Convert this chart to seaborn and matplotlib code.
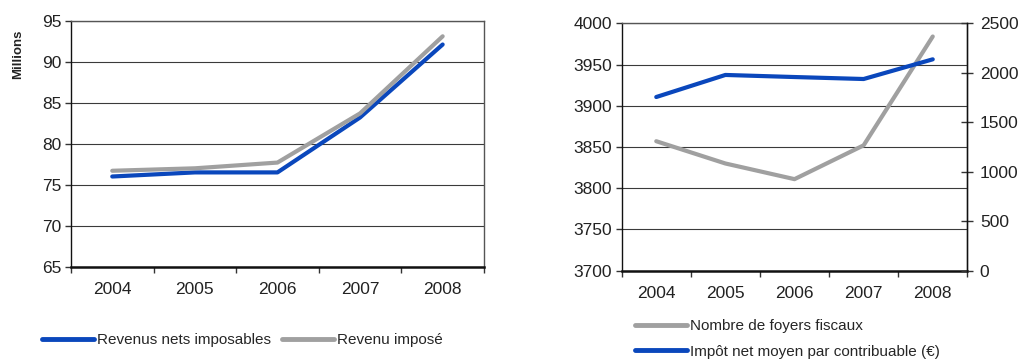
import matplotlib
matplotlib.use("Agg")
import matplotlib.pyplot as plt
import seaborn as sns
import pandas as pd
import numpy as np
from matplotlib.ticker import FixedLocator, MultipleLocator
from matplotlib.lines import Line2D

years = ["2004", "2005", "2006", "2007", "2008"]

# Revenus (millions)
revenus_nets_imposables = [76.0, 76.5, 76.5, 83.2, 92.1]
revenu_impose = [76.7, 77.0, 77.7, 83.7, 93.1]

# Foyers fiscaux (left axis) and average net tax per taxpayer in € (right axis)
nombre_foyers = [3857, 3830, 3811, 3852, 3984]
impot_moyen = [1755, 1978, 1957, 1937, 2136]

BLUE = "#0A47BC"
GREY = "#A0A0A0"
TICK_SIZE = 12.5

sns.set_theme(style="white")
plt.rcParams["font.family"] = ["Liberation Sans", "DejaVu Sans"]

fig = plt.figure(figsize=(10.18, 3.59), dpi=100)
ax1 = fig.add_axes([0.0697, 0.2571, 0.4057, 0.6852])
ax2 = fig.add_axes([0.6107, 0.2460, 0.3395, 0.6891])

df1 = pd.DataFrame({
    "annee": years * 2,
    "valeur": revenus_nets_imposables + revenu_impose,
    "serie": ["Revenus nets imposables"] * 5 + ["Revenu imposé"] * 5,
})
sns.lineplot(data=df1, x="annee", y="valeur", hue="serie", sort=False,
             palette=[BLUE, GREY], linewidth=3, ax=ax1, legend=False)


def style_axes(ax, ylo, yhi, step):
    ax.set_xlim(-0.5, len(years) - 0.5)
    ax.set_ylim(ylo, yhi)
    ax.yaxis.set_major_locator(MultipleLocator(step))
    ax.set_xticks(range(len(years)))
    ax.set_xticklabels(years)
    ax.xaxis.set_minor_locator(FixedLocator(np.arange(-0.5, len(years), 1.0)))
    ax.tick_params(axis="x", which="major", length=0, pad=11, labelsize=TICK_SIZE)
    ax.tick_params(axis="x", which="minor", bottom=True, length=4, width=1, color="#333333")
    ax.tick_params(axis="y", left=True, length=4, width=1, color="#333333",
                   labelsize=TICK_SIZE, pad=3)
    ax.set_xlabel("")
    ax.set_ylabel("")
    ax.grid(axis="y", color="#3a3a3a", linewidth=0.8)
    ax.grid(axis="x", visible=False)
    for s in ["top", "right"]:
        ax.spines[s].set_color("#555555")
        ax.spines[s].set_linewidth(1.0)
    ax.spines["left"].set_color("#111111")
    ax.spines["bottom"].set_color("#111111")
    ax.spines["bottom"].set_linewidth(1.8)
    ax.spines["left"].set_linewidth(1.0)
    for lbl in ax.get_yticklabels() + ax.get_xticklabels():
        lbl.set_color("#222222")


style_axes(ax1, 65, 95, 5)
fig.text(0.018, 1 - 54 / 359, "Millions", rotation=90, ha="center", va="center",
         fontsize=9.5, fontweight="bold", color="#222222")

# Right chart: households on left axis, average tax on twin axis
sns.lineplot(x=years, y=nombre_foyers, color=GREY, linewidth=3, sort=False, ax=ax2)
style_axes(ax2, 3700, 4000, 50)
ax2r = ax2.twinx()
sns.lineplot(x=years, y=impot_moyen, color=BLUE, linewidth=3, sort=False, ax=ax2r)
ax2r.set_ylim(0, 2500)
ax2r.yaxis.set_major_locator(MultipleLocator(500))
ax2r.set_ylabel("")
ax2r.grid(False)
ax2r.tick_params(axis="y", right=True, direction="inout", length=8, width=1,
                 color="#333333", labelsize=TICK_SIZE, pad=5, labelcolor="#222222")
for s in ["top", "left", "bottom"]:
    ax2r.spines[s].set_visible(False)
ax2r.spines["right"].set_color("#111111")
ax2r.spines["right"].set_linewidth(1.0)

h1 = [Line2D([], [], color=BLUE, lw=3.5), Line2D([], [], color=GREY, lw=3.5)]
fig.legend(h1, ["Revenus nets imposables", "Revenu imposé"], ncol=2, frameon=False,
           loc="center left", bbox_to_anchor=(42 / 1018, 1 - 340 / 359),
           fontsize=11, handlelength=3.4, handletextpad=0.2, columnspacing=0.7,
           borderpad=0, borderaxespad=0)

h2 = [Line2D([], [], color=GREY, lw=3.5), Line2D([], [], color=BLUE, lw=3.5)]
fig.legend(h2, ["Nombre de foyers fiscaux", "Impôt net moyen par contribuable (€)"],
           ncol=1, frameon=False, loc="center left",
           bbox_to_anchor=(635 / 1018, 1 - 339 / 359),
           fontsize=11, handlelength=3.4, handletextpad=0.2, labelspacing=0.75,
           borderpad=0, borderaxespad=0)

fig.savefig("out.png", dpi=100)
